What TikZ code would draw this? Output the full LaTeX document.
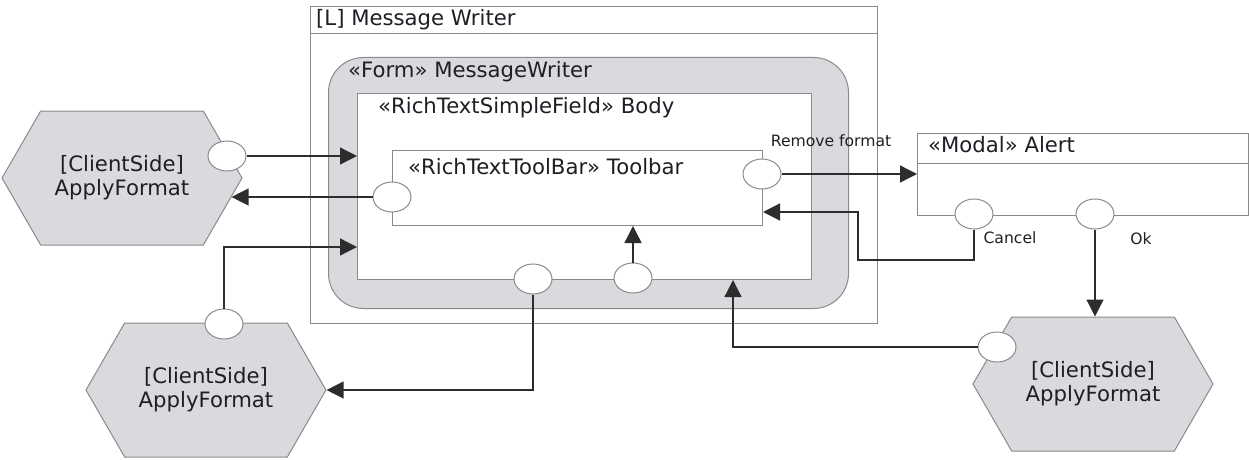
\documentclass[tikz,border=0pt]{standalone}
\usepackage{fontspec}
\setmainfont{DejaVu Sans}
\usepackage{tikz}
\usetikzlibrary{shapes.geometric,shapes.symbols,arrows.meta,positioning}
\definecolor{formgray}{RGB}{218,217,221}
\definecolor{edgegray}{RGB}{138,138,138}
\definecolor{linedark}{RGB}{45,45,45}
\definecolor{textdark}{RGB}{30,30,36}

\begin{document}
\begin{tikzpicture}[x=1pt,y=-1pt,
  frame/.style={rectangle, draw=edgegray, line width=1pt, fill=white, anchor=north west, inner sep=0pt},
  title/.style={anchor=west, inner sep=0pt, text=textdark, font=\fontsize{21.2}{24}\selectfont},
  hexa/.style={signal, signal to=west and east, signal pointer angle=120, draw=edgegray, line width=1pt,
              fill=formgray, minimum width=240pt, minimum height=134pt, inner sep=0pt, align=center,
              text=textdark, font=\fontsize{21.2}{24}\selectfont},
  port/.style={ellipse, draw=edgegray, line width=1pt, fill=white, minimum width=38pt, minimum height=30pt, inner sep=0pt},
  conn/.style={draw=linedark, line width=1.3pt, -{Triangle[length=17pt,width=17pt]}},
  tag/.style={inner sep=0pt, text=textdark, font=\fontsize{15.6}{18}\selectfont}
]
\useasboundingbox (0,0) rectangle (1249,460);

% containers
\node[frame, minimum width=567pt, minimum height=317pt] (lbox) at (310,6) {};
\draw[edgegray, line width=1pt] ([yshift=-28pt]lbox.north west) -- ([yshift=-28pt]lbox.north east);
\node[title] (ltitle) at (316,20) {[L] Message Writer};

\node[frame, fill=formgray, rounded corners=35pt, minimum width=520pt, minimum height=251pt] (form) at (328,57) {};
\node[title] (formtitle) at (348,72) {«Form» MessageWriter};

\node[frame, minimum width=454pt, minimum height=186pt] (body) at (357,93) {};
\node[title] (bodytitle) at (378,108) {«RichTextSimpleField» Body};

\node[frame, minimum width=370pt, minimum height=75pt] (toolbar) at (392,150) {};
\node[title] (tbtitle) at (408,167) {«RichTextToolBar» Toolbar};

\node[frame, minimum width=331pt, minimum height=82pt] (alert) at (917,133) {};
\draw[edgegray, line width=1pt] ([yshift=-30pt]alert.north west) -- ([yshift=-30pt]alert.north east);
\node[title] (alerttitle) at (928,145) {«Modal» Alert};

% client side actions
\node[hexa] (hexa1) at (122,178) {[ClientSide]\\ApplyFormat};
\node[hexa] (hexa2) at (206,390) {[ClientSide]\\ApplyFormat};
\node[hexa] (hexa3) at (1093,384) {[ClientSide]\\ApplyFormat};

% ports
\node[port] (p1) at (227,156) {};
\node[port] (tbleft) at (392,197) {};
\node[port] (p2) at (224,324) {};
\node[port] (bodyb1) at (533,279) {};
\node[port] (bodyb2) at (633,278) {};
\node[port] (tbright) at (762,174) {};
\node[port] (cancel) at (974,214) {};
\node[port] (ok) at (1095,214) {};
\node[port] (p3) at (997,347) {};

\node[tag] (rmlabel) at (831,141) {Remove format};
\node[tag] (cancellabel) at (1010,238) {Cancel};
\node[tag] (oklabel) at (1141,239) {Ok};

% connectors
\coordinate (h1in) at ([shift={(-11,19)}]hexa1.east);
\draw[conn] (p1.east) -- (p1 -| body.west);
\draw[conn] (tbleft.west) -- (h1in);
\draw[conn] (p2.north) |- (body.west |- 224,247);
\draw[conn] (bodyb1.south) |- (hexa2.east);
\draw[conn] (bodyb2.north) -- (bodyb2.north |- toolbar.south);
\draw[conn] (tbright.east) -- (tbright -| alert.west);
\draw[conn] (cancel.south) |- (858,260) -- (858,212) -- (toolbar.east |- 858,212);
\draw[conn] (ok.south) -- (ok.south |- hexa3.north);
\draw[conn] (p3.west) -| (body.south -| 733,0);

\end{tikzpicture}
\end{document}
